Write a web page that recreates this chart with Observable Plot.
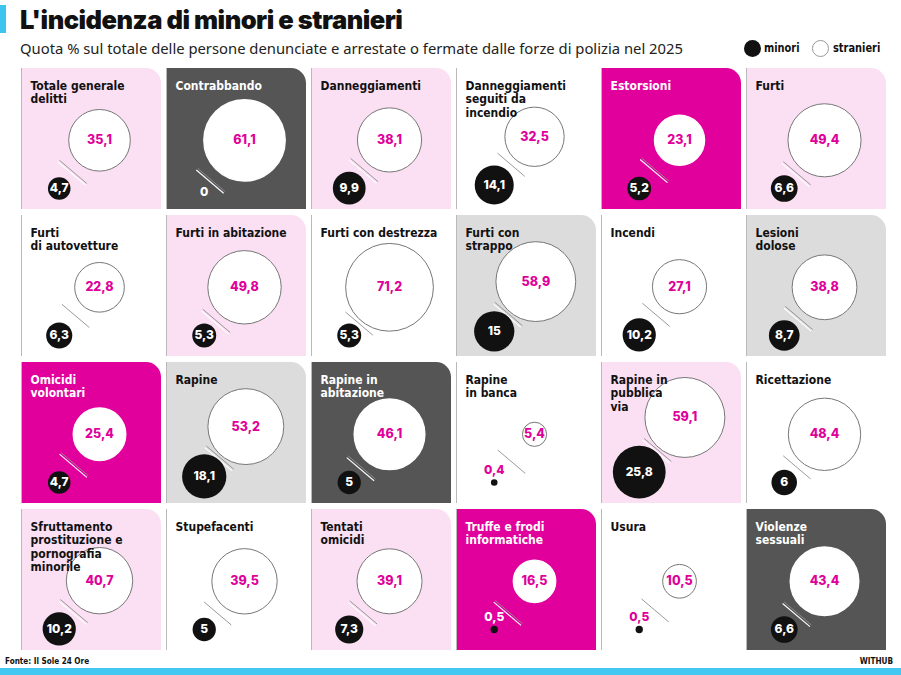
<!DOCTYPE html>
<html lang="it">
<head>
<meta charset="utf-8">
<script src="https://cdn.jsdelivr.net/npm/d3@7"></script>
<script src="https://cdn.jsdelivr.net/npm/@observablehq/plot@0.6"></script>
<style>
  html, body { margin: 0; padding: 0; background: #fff; }
  #page { position: relative; width: 901px; height: 675px; overflow: hidden; background: #fff; }
  .bar-top { position: absolute; left: 0; top: 5px; width: 6px; height: 28px; background: #3cc6ef; }
  h1 { position: absolute; left: 20px; top: 4px; margin: 0; font: 900 25.5px Inter, sans-serif; letter-spacing: -0.5px; color: #111; white-space: nowrap; }
  .sub { position: absolute; left: 20px; top: 38px; font: 400 14.8px "Noto Sans", sans-serif; color: #222; white-space: nowrap; }
  .legend { position: absolute; top: 39px; left: 744px; height: 18px; font: 700 13px "Liberation Sans Narrow", "DejaVu Sans Condensed", Roboto, sans-serif; color: #111; }
  .legend span { position: absolute; top: 0; white-space: nowrap; line-height: 18px; transform: scaleX(0.84); transform-origin: left center; }
  .sw { position: absolute; top: 1px; width: 17px; height: 17px; border-radius: 50%; box-sizing: border-box; }
  #chart { position: absolute; left: 0; top: 62px; }
  .foot { position: absolute; top: 656px; font: 700 9px "Liberation Sans Narrow", "DejaVu Sans Condensed", Roboto, sans-serif; color: #111; white-space: nowrap; transform: scaleX(0.9); }
  .bar-bottom { position: absolute; left: 0; top: 668px; width: 901px; height: 7px; background: #43c9f1; }
</style>
</head>
<body>
<div id="page">
  <div class="bar-top"></div>
  <h1>L'incidenza di minori e stranieri</h1>
  <div class="sub">Quota % sul totale delle persone denunciate e arrestate o fermate dalle forze di polizia nel 2025</div>
  <div class="legend">
    <div class="sw" style="left:0; background:#111;"></div>
    <span style="left:20px;">minori</span>
    <div class="sw" style="left:68px; background:#fff; border:1px solid #999;"></div>
    <span style="left:89px;">stranieri</span>
  </div>
  <div id="chart"></div>
  <div class="foot" style="left:5px; transform-origin: left center;">Fonte: Il Sole 24 Ore</div>
  <div class="foot" style="right:8px; transform-origin: right center;">WITHUB</div>
  <div class="bar-bottom"></div>
</div>
<script>
// Reati, in ordine di lettura (6 colonne x 4 righe)
const categorie = [
  "Totale generale\ndelitti", "Contrabbando", "Danneggiamenti", "Danneggiamenti\nseguiti da\nincendio", "Estorsioni", "Furti",
  "Furti\ndi autovetture", "Furti in abitazione", "Furti con destrezza", "Furti con\nstrappo", "Incendi", "Lesioni\ndolose",
  "Omicidi\nvolontari", "Rapine", "Rapine in\nabitazione", "Rapine\nin banca", "Rapine in\npubblica\nvia", "Ricettazione",
  "Sfruttamento\nprostituzione e\npornografia\nminorile", "Stupefacenti", "Tentati\nomicidi", "Truffe e frodi\ninformatiche", "Usura", "Violenze\nsessuali"
];

// Quota % di minori sul totale dei denunciati/arrestati
const minori = [
  4.7, 0, 9.9, 14.1, 5.2, 6.6,
  6.3, 5.3, 5.3, 15, 10.2, 8.7,
  4.7, 18.1, 5, 0.4, 25.8, 6,
  10.2, 5, 7.3, 0.5, 0.5, 6.6
];

// Quota % di stranieri sul totale dei denunciati/arrestati
const stranieri = [
  35.1, 61.1, 38.1, 32.5, 23.1, 49.4,
  22.8, 49.8, 71.2, 58.9, 27.1, 38.8,
  25.4, 53.2, 46.1, 5.4, 59.1, 48.4,
  40.7, 39.5, 39.1, 16.5, 10.5, 43.4
];

// Tonalità del riquadro di ciascun reato
const toni = [
  "rosa", "scuro", "rosa", "bianco", "magenta", "rosa",
  "bianco", "rosa", "bianco", "grigio", "bianco", "grigio",
  "magenta", "grigio", "scuro", "bianco", "rosa", "bianco",
  "rosa", "bianco", "rosa", "magenta", "bianco", "scuro"
];

const tonoDomain = ["rosa", "scuro", "bianco", "magenta", "grigio"];
const tonoRange = ["#fbdff3", "#555555", "#ffffff", "#e2009c", "#dcdcdc"];
const MAGENTA = "#e0009a";

const NCOL = 6;
const TILE = 141;                 // lato del riquadro, in unità locali
const rDomain = [0, 100];
const rRange = [0, 52];           // area del cerchio proporzionale alla quota
const rPx = d3.scaleSqrt().domain(rDomain).range(rRange);

// Ancoraggio del cerchio "minori" e direzione verso il cerchio "stranieri"
const anchorMin = {x: 38, y: 120};
const bottomLimit = 136;          // i cerchi grandi risalgono per restare nel riquadro
const dir = (() => { const l = Math.hypot(-0.644, 0.765); return {x: -0.644 / l, y: 0.765 / l}; })();
const perp = {x: dir.y, y: -dir.x};
const baseDist = 63;
const halfTick = 18;

const isDark = d => d.tono === "scuro" || d.tono === "magenta";
const fmt = v => String(v).replace(".", ",");

const rows = categorie.map((categoria, i) => {
  const rs = rPx(stranieri[i]);
  const rm = rPx(minori[i]);
  const mx = anchorMin.x;
  const my = Math.min(anchorMin.y, bottomLimit - rm);
  const dist = Math.max(baseDist, rs + rm + 5);
  const sx = mx - dir.x * dist;
  const sy = my - dir.y * dist;
  // trattino al centro dello spazio libero fra i due cerchi
  const t = (dist + rs - rm) / 2;
  const px = sx + dir.x * t, py = sy + dir.y * t;
  return {
    categoria, tono: toni[i],
    minori: minori[i], stranieri: stranieri[i],
    col: i % NCOL, row: Math.floor(i / NCOL),
    sx, sy, mx, my, rm,
    lx1: px - perp.x * halfTick, ly1: py - perp.y * halfTick,
    lx2: px + perp.x * halfTick, ly2: py + perp.y * halfTick,
    wx1: px - perp.x * halfTick + dir.x * 2.2, wy1: py - perp.y * halfTick + dir.y * 2.2,
    wx2: px + perp.x * halfTick + dir.x * 2.2, wy2: py + perp.y * halfTick + dir.y * 2.2
  };
});

const facet = {fx: "col", fy: "row"};
const labelFont = "'Liberation Sans Narrow', 'DejaVu Sans Condensed', 'Roboto Condensed', Roboto, sans-serif";
const numFont = "Inter, 'Noto Sans', sans-serif";
const labelStyle = {
  frameAnchor: "top-left", dx: 9, dy: 12, text: "categoria",
  textAnchor: "start", lineAnchor: "top", lineHeight: 1.12,
  fontFamily: labelFont, fontWeight: 700, fontSize: 12, ariaLabel: "etichetta"
};

const chart = Plot.plot({
  width: 901,
  height: 595,
  marginTop: 5,
  marginBottom: 7,
  marginLeft: 18,
  marginRight: 12,
  style: {background: "transparent"},
  fx: {domain: d3.range(6), paddingInner: 0.034, paddingOuter: 0, axis: null},
  fy: {domain: d3.range(4), paddingInner: 0.043, paddingOuter: 0, axis: null},
  x: {domain: [0, TILE], axis: null},
  y: {domain: [0, TILE], reverse: true, axis: null},
  r: {type: "sqrt", domain: rDomain, range: rRange},
  color: {type: "ordinal", domain: tonoDomain, range: tonoRange},
  marks: [
    // riquadro con il solo angolo in alto a destra arrotondato
    Plot.rect(rows, {...facet, fill: "tono", rx: 15}),
    Plot.rect(rows, {...facet, fill: "tono", insetRight: 20}),
    Plot.rect(rows, {...facet, fill: "tono", insetTop: 20}),
    Plot.ruleX([0], {stroke: "#b9b9b9", strokeWidth: 1}),

    // trattino doppio fra i due cerchi
    Plot.link(rows, {...facet, x1: "wx1", y1: "wy1", x2: "wx2", y2: "wy2", stroke: "#ffffff", strokeWidth: 1.1}),
    Plot.link(rows, {...facet, x1: "lx1", y1: "ly1", x2: "lx2", y2: "ly2", stroke: "#8f8f8f", strokeWidth: 0.9}),

    // stranieri
    Plot.dot(rows.filter(d => !isDark(d)), {...facet, x: "sx", y: "sy", r: "stranieri", fill: "#fff", stroke: "#777", strokeWidth: 1}),
    Plot.dot(rows.filter(d => isDark(d)), {...facet, x: "sx", y: "sy", r: "stranieri", fill: "#fff", stroke: "#fff"}),
    Plot.text(rows, {...facet, x: "sx", y: "sy", text: d => fmt(d.stranieri), fill: MAGENTA,
      fontFamily: numFont, fontWeight: 800, fontSize: 12.5, letterSpacing: "-0.3px"}),

    // minori
    Plot.dot(rows, {...facet, x: "mx", y: "my", r: "minori", fill: "#111"}),
    Plot.text(rows.filter(d => d.rm >= 7), {...facet, x: "mx", y: "my", text: d => fmt(d.minori), fill: "#fff",
      fontFamily: numFont, fontWeight: 800, fontSize: 12, letterSpacing: "-0.3px"}),
    Plot.text(rows.filter(d => d.rm < 7 && d.minori > 0 && !isDark(d)), {...facet, x: "mx", y: "my", dy: -12, text: d => fmt(d.minori), fill: MAGENTA,
      fontFamily: numFont, fontWeight: 800, fontSize: 12, letterSpacing: "-0.3px"}),
    Plot.text(rows.filter(d => d.rm < 7 && d.minori > 0 && isDark(d)), {...facet, x: "mx", y: "my", dy: -12, text: d => fmt(d.minori), fill: "#fff",
      fontFamily: numFont, fontWeight: 800, fontSize: 12, letterSpacing: "-0.3px"}),
    Plot.text(rows.filter(d => d.minori === 0 && isDark(d)), {...facet, x: "mx", y: "my", dy: 4, text: d => fmt(d.minori),
      fill: "#fff", fontFamily: numFont, fontWeight: 800, fontSize: 12}),
    Plot.text(rows.filter(d => d.minori === 0 && !isDark(d)), {...facet, x: "mx", y: "my", dy: 4, text: d => fmt(d.minori),
      fill: MAGENTA, fontFamily: numFont, fontWeight: 800, fontSize: 12}),

    // nome del reato
    Plot.text(rows.filter(d => !isDark(d)), {...facet, ...labelStyle, fill: "#111"}),
    Plot.text(rows.filter(d => isDark(d)), {...facet, ...labelStyle, fill: "#fff"})
  ]
});

// carattere stretto per i nomi dei reati
d3.select(chart).selectAll('g[aria-label="etichetta"] text').attr("transform", function() {
  return (this.getAttribute("transform") || "") + " scale(0.86,1)";
});

document.getElementById("chart").appendChild(chart);
</script>
</body>
</html>
